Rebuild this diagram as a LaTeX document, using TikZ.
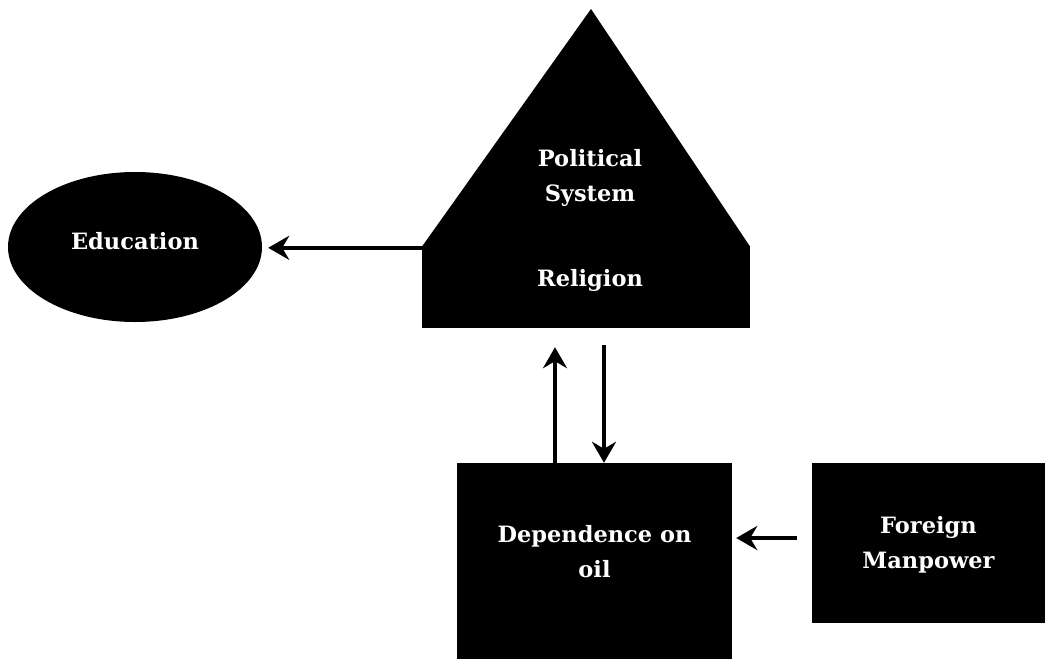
\documentclass[tikz,border=0pt]{standalone}
\usepackage{fontspec}
\setmainfont{DejaVu Serif}
\usetikzlibrary{shapes.geometric,arrows.meta}
\begin{document}
\begin{tikzpicture}[x=1pt,y=-1pt,
  blk/.style={fill=black,draw=none,inner sep=0pt},
  lbl/.style={text=white,font=\fontsize{22.5}{35}\selectfont\bfseries,align=center,inner sep=0pt},
  arr/.style={line width=4pt,-{Stealth[length=21pt,width=24pt,inset=7pt]}}]
\useasboundingbox (0,0) rectangle (1045,659);
% Education ellipse
\node[blk,ellipse,minimum width=254pt,minimum height=150pt] (edu) at (135,247) {};
\node[lbl] (edut) at (135,241) {Education};
% Political system / religion house
\node[blk,rectangle,minimum width=328pt,minimum height=81pt] (rel) at (586,287.5) {};
\coordinate (apex) at (591,9);
\fill (rel.north west) -- (apex) -- (rel.north east) -- cycle;
\node[lbl] (polt) at (590,178) {Political\\System};
\node[lbl] (relt) at (590,280) {Religion};
% Dependence on oil
\node[blk,rectangle,minimum width=275pt,minimum height=196pt] (dep) at (594.5,561) {};
\node[lbl] (dept) at (594.5,552) {Dependence on\\oil};
% Foreign manpower
\node[blk,rectangle,minimum width=233pt,minimum height=160pt] (for) at (928.5,543) {};
\node[lbl] (fort) at (928.5,545) {Foreign\\Manpower};
% connectors
\coordinate (edustart) at ([yshift=-1pt]rel.north west);
\draw[arr,shorten >=6pt] (edustart) -- (edu.east |- edustart);
\draw[arr,shorten >=19pt] ([xshift=-39.5pt]dep.north) -- ([xshift=-31pt]rel.south);
\draw[arr,shorten <=17pt] ([xshift=18pt]rel.south) -- ([xshift=9.5pt]dep.north);
\draw[arr,shorten <=15pt,shorten >=4pt] (for.west |- 0,538) -- (dep.east |- 0,538);
\end{tikzpicture}
\end{document}
